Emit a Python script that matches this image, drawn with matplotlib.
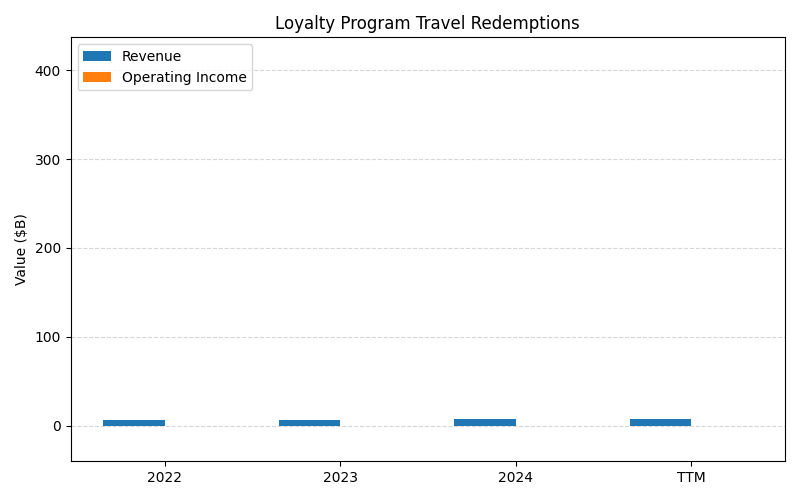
import matplotlib
matplotlib.use("Agg")
import matplotlib.pyplot as plt
import numpy as np

categories = ["2022", "2023", "2024", "TTM"]
revenue = [6.4, 6.5, 7.7, 7.8]
operating_income = [0.0, 0.0, 0.0, 0.0]

fig, ax = plt.subplots(figsize=(8, 5), dpi=100)
x = np.arange(len(categories))
w = 0.35
ax.bar(x - w/2, revenue, w, label="Revenue", color="#1f77b4")
ax.bar(x + w/2, operating_income, w, label="Operating Income", color="#ff7f0e")
ax.set_xticks(x)
ax.set_xticklabels(categories)
ax.set_ylim(-40, 437)
ax.set_yticks([0, 100, 200, 300, 400])
ax.set_ylabel("Value ($B)")
ax.set_title("Loyalty Program Travel Redemptions")
ax.yaxis.grid(True, linestyle="--", color="#cccccc", alpha=0.8)
ax.set_axisbelow(True)
ax.legend(loc="upper left")
fig.tight_layout()
fig.savefig("out.png")
